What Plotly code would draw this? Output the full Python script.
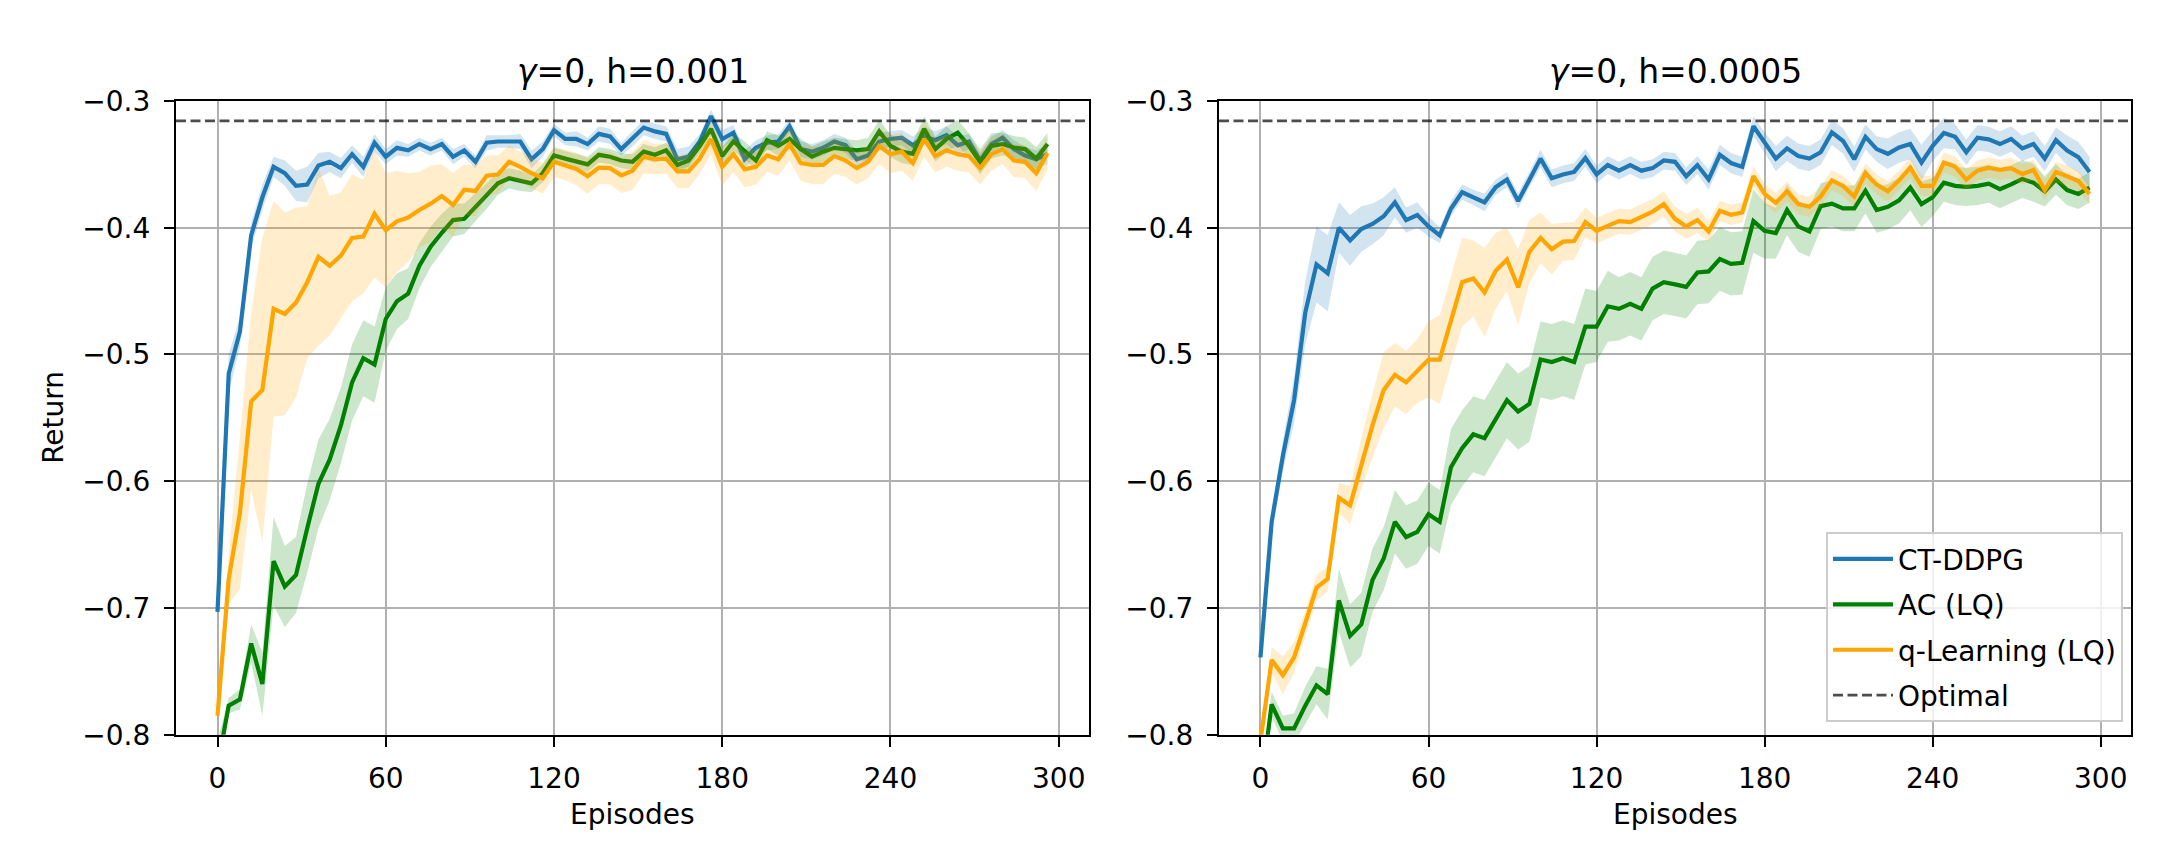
import plotly.graph_objects as go

W, H = 2160, 864

episodes = list(range(0, 300, 4))
optimal = -0.3157

# gamma=0, h=0.001
left_ddpg = [
    -0.703, -0.515, -0.482, -0.406, -0.376, -0.352, -0.357, -0.367, -0.366, -0.351,
    -0.348, -0.353, -0.342, -0.352, -0.333, -0.344, -0.337, -0.339, -0.334, -0.338,
    -0.334, -0.344, -0.339, -0.348, -0.333, -0.332, -0.332, -0.332, -0.346, -0.338,
    -0.323, -0.330, -0.330, -0.334, -0.326, -0.328, -0.338, -0.330, -0.321, -0.324,
    -0.326, -0.346, -0.344, -0.332, -0.312, -0.330, -0.325, -0.346, -0.337, -0.333,
    -0.332, -0.320, -0.338, -0.340, -0.337, -0.332, -0.335, -0.346, -0.343, -0.332,
    -0.330, -0.329, -0.335, -0.328, -0.331, -0.327, -0.335, -0.332, -0.347, -0.334,
    -0.329, -0.338, -0.343, -0.346, -0.342,
]
left_ddpg_sd = [
    0.006, 0.015, 0.012, 0.010, 0.010, 0.008, 0.010, 0.012, 0.014, 0.010,
    0.008, 0.008, 0.007, 0.008, 0.007, 0.006, 0.006, 0.005, 0.005, 0.005,
    0.005, 0.006, 0.005, 0.005, 0.006, 0.005, 0.005, 0.006, 0.007, 0.006,
    0.005, 0.005, 0.006, 0.005, 0.006, 0.006, 0.005, 0.006, 0.006, 0.006,
    0.006, 0.008, 0.008, 0.006, 0.005, 0.007, 0.006, 0.007, 0.006, 0.006,
    0.006, 0.005, 0.006, 0.006, 0.006, 0.006, 0.006, 0.006, 0.007, 0.007,
    0.006, 0.006, 0.007, 0.007, 0.007, 0.007, 0.007, 0.006, 0.006, 0.006,
    0.006, 0.007, 0.007, 0.007, 0.008,
]
left_ac = [
    -0.825, -0.777, -0.772, -0.728, -0.760, -0.663, -0.683, -0.674, -0.637, -0.602,
    -0.583, -0.556, -0.522, -0.503, -0.508, -0.472, -0.458, -0.452, -0.430, -0.415,
    -0.404, -0.394, -0.393, -0.384, -0.375, -0.365, -0.361, -0.363, -0.365, -0.357,
    -0.343, -0.3455, -0.348, -0.350, -0.3425, -0.344, -0.347, -0.348, -0.340, -0.3425,
    -0.339, -0.3505, -0.347, -0.3355, -0.322, -0.3435, -0.332, -0.339, -0.347, -0.331,
    -0.3355, -0.330, -0.338, -0.344, -0.340, -0.337, -0.338, -0.339, -0.338, -0.324,
    -0.3355, -0.340, -0.3417, -0.322, -0.338, -0.330, -0.325, -0.3355, -0.348, -0.3355,
    -0.334, -0.3367, -0.338, -0.3455, -0.334,
]
left_ac_sd = [
    0.020, 0.006, 0.008, 0.015, 0.025, 0.035, 0.032, 0.030, 0.035, 0.035,
    0.032, 0.030, 0.030, 0.030, 0.030, 0.025, 0.022, 0.020, 0.018, 0.016,
    0.015, 0.013, 0.012, 0.011, 0.010, 0.009, 0.008, 0.008, 0.007, 0.007,
    0.006, 0.006, 0.006, 0.006, 0.006, 0.006, 0.006, 0.006, 0.006, 0.006,
    0.006, 0.006, 0.006, 0.006, 0.006, 0.007, 0.007, 0.007, 0.007, 0.007,
    0.008, 0.008, 0.008, 0.008, 0.008, 0.008, 0.008, 0.008, 0.009, 0.009,
    0.009, 0.009, 0.009, 0.010, 0.010, 0.010, 0.010, 0.010, 0.010, 0.010,
    0.009, 0.009, 0.009, 0.009, 0.009,
]
left_q = [
    -0.785, -0.677, -0.625, -0.537, -0.528, -0.464, -0.468, -0.459, -0.443, -0.423,
    -0.430, -0.422, -0.408, -0.407, -0.389, -0.402, -0.395, -0.392, -0.386, -0.381,
    -0.375, -0.382, -0.370, -0.371, -0.359, -0.358, -0.348, -0.352, -0.357, -0.361,
    -0.348, -0.3505, -0.3536, -0.3594, -0.3526, -0.353, -0.3587, -0.355, -0.344, -0.346,
    -0.3455, -0.3556, -0.3556, -0.3455, -0.330, -0.352, -0.342, -0.354, -0.352, -0.343,
    -0.346, -0.334, -0.349, -0.3505, -0.3505, -0.3435, -0.347, -0.353, -0.348, -0.3355,
    -0.342, -0.340, -0.349, -0.330, -0.3435, -0.339, -0.342, -0.3435, -0.353, -0.342,
    -0.338, -0.347, -0.348, -0.357, -0.341,
]
left_q_sd = [
    0.005, 0.020, 0.060, 0.070, 0.120, 0.085, 0.080, 0.075, 0.060, 0.070,
    0.055, 0.050, 0.050, 0.045, 0.050, 0.045, 0.040, 0.035, 0.030, 0.030,
    0.025, 0.025, 0.020, 0.020, 0.016, 0.015, 0.013, 0.012, 0.012, 0.012,
    0.012, 0.012, 0.013, 0.014, 0.013, 0.013, 0.014, 0.015, 0.013, 0.012,
    0.012, 0.013, 0.013, 0.012, 0.012, 0.015, 0.014, 0.014, 0.014, 0.013,
    0.013, 0.013, 0.014, 0.015, 0.015, 0.014, 0.013, 0.013, 0.013, 0.014,
    0.015, 0.015, 0.014, 0.014, 0.013, 0.013, 0.013, 0.013, 0.013, 0.013,
    0.012, 0.013, 0.013, 0.014, 0.013,
]

# gamma=0, h=0.0005
right_ddpg = [
    -0.739, -0.632, -0.580, -0.536, -0.467, -0.429, -0.436, -0.400, -0.410, -0.401,
    -0.397, -0.391, -0.380, -0.394, -0.390, -0.399, -0.406, -0.385, -0.372, -0.376,
    -0.380, -0.368, -0.362, -0.379, -0.362, -0.3455, -0.361, -0.358, -0.356, -0.345,
    -0.358, -0.3506, -0.355, -0.3506, -0.355, -0.353, -0.347, -0.348, -0.3594, -0.3506,
    -0.362, -0.3425, -0.349, -0.352, -0.320, -0.3329, -0.3455, -0.3374, -0.3435, -0.3455,
    -0.3405, -0.3248, -0.3316, -0.346, -0.3283, -0.338, -0.3417, -0.3367, -0.334, -0.3486,
    -0.3354, -0.3253, -0.3283, -0.3405, -0.329, -0.3303, -0.334, -0.330, -0.3374, -0.334,
    -0.3455, -0.3309, -0.3392, -0.3443, -0.356,
]
right_ddpg_sd = [
    0.005, 0.010, 0.012, 0.018, 0.025, 0.030, 0.030, 0.020, 0.020, 0.018,
    0.016, 0.015, 0.012, 0.010, 0.010, 0.008, 0.006, 0.006, 0.006, 0.006,
    0.007, 0.006, 0.006, 0.006, 0.006, 0.007, 0.007, 0.007, 0.007, 0.007,
    0.007, 0.007, 0.007, 0.007, 0.007, 0.007, 0.007, 0.007, 0.007, 0.007,
    0.008, 0.008, 0.008, 0.008, 0.008, 0.008, 0.010, 0.010, 0.010, 0.010,
    0.010, 0.010, 0.010, 0.010, 0.010, 0.010, 0.012, 0.012, 0.012, 0.014,
    0.012, 0.012, 0.010, 0.010, 0.010, 0.010, 0.010, 0.010, 0.010, 0.010,
    0.010, 0.010, 0.012, 0.012, 0.012,
]
right_ac = [
    -0.845, -0.776, -0.795, -0.795, -0.777, -0.761, -0.768, -0.694, -0.722, -0.713,
    -0.678, -0.661, -0.632, -0.644, -0.640, -0.626, -0.632, -0.589, -0.574, -0.563,
    -0.566, -0.551, -0.536, -0.545, -0.539, -0.504, -0.506, -0.503, -0.506, -0.478,
    -0.478, -0.462, -0.464, -0.460, -0.464, -0.448, -0.443, -0.4447, -0.4467, -0.4353,
    -0.4345, -0.4247, -0.4285, -0.4277, -0.3948, -0.4024, -0.4042, -0.386, -0.399, -0.403,
    -0.383, -0.381, -0.3847, -0.3847, -0.3708, -0.386, -0.3835, -0.3784, -0.3683, -0.3814,
    -0.3759, -0.3645, -0.367, -0.3678, -0.367, -0.3653, -0.3696, -0.3658, -0.3615, -0.3645,
    -0.3713, -0.362, -0.3703, -0.3733, -0.3683,
]
right_ac_sd = [
    0.010, 0.010, 0.010, 0.012, 0.015, 0.015, 0.020, 0.025, 0.025, 0.025,
    0.025, 0.025, 0.025, 0.025, 0.025, 0.025, 0.025, 0.030, 0.030, 0.030,
    0.030, 0.030, 0.030, 0.030, 0.030, 0.030, 0.030, 0.030, 0.030, 0.030,
    0.028, 0.028, 0.025, 0.025, 0.025, 0.025, 0.025, 0.025, 0.025, 0.025,
    0.025, 0.025, 0.025, 0.025, 0.025, 0.022, 0.020, 0.020, 0.020, 0.020,
    0.018, 0.018, 0.018, 0.018, 0.018, 0.018, 0.018, 0.018, 0.018, 0.018,
    0.015, 0.015, 0.015, 0.015, 0.015, 0.015, 0.015, 0.015, 0.015, 0.015,
    0.012, 0.012, 0.012, 0.012, 0.012,
]
right_q = [
    -0.805, -0.741, -0.753, -0.739, -0.712, -0.684, -0.677, -0.613, -0.619, -0.586,
    -0.556, -0.528, -0.516, -0.522, -0.513, -0.504, -0.504, -0.473, -0.443, -0.440,
    -0.451, -0.434, -0.425, -0.447, -0.419, -0.408, -0.417, -0.411, -0.4105, -0.3956,
    -0.4024, -0.3986, -0.3948, -0.3956, -0.3916, -0.3873, -0.3814, -0.393, -0.399, -0.394,
    -0.403, -0.3867, -0.3898, -0.388, -0.3594, -0.3733, -0.3804, -0.3713, -0.3814, -0.3835,
    -0.3754, -0.3627, -0.367, -0.3754, -0.357, -0.366, -0.3713, -0.3627, -0.3526, -0.367,
    -0.367, -0.3486, -0.3518, -0.362, -0.355, -0.3526, -0.3544, -0.3531, -0.3577, -0.3544,
    -0.3703, -0.3561, -0.3594, -0.3632, -0.3733,
]
right_q_sd = [
    0.005, 0.010, 0.015, 0.012, 0.010, 0.010, 0.010, 0.012, 0.015, 0.020,
    0.025, 0.030, 0.025, 0.025, 0.025, 0.030, 0.035, 0.035, 0.035, 0.030,
    0.035, 0.030, 0.025, 0.030, 0.025, 0.020, 0.020, 0.015, 0.015, 0.012,
    0.010, 0.010, 0.010, 0.010, 0.010, 0.010, 0.010, 0.010, 0.010, 0.010,
    0.008, 0.008, 0.008, 0.008, 0.008, 0.008, 0.008, 0.008, 0.008, 0.008,
    0.008, 0.008, 0.008, 0.008, 0.008, 0.008, 0.008, 0.008, 0.008, 0.008,
    0.008, 0.008, 0.008, 0.008, 0.008, 0.008, 0.008, 0.008, 0.008, 0.008,
    0.008, 0.008, 0.008, 0.008, 0.008,
]

names = ["CT-DDPG", "AC (LQ)", "q-Learning (LQ)"]
colors = ["#1f77b4", "#008000", "#ffa500"]
bands = ["rgba(31,119,180,0.2)", "rgba(0,128,0,0.2)", "rgba(255,165,0,0.2)"]
titles = ["<i>γ</i>=0, h=0.001", "<i>γ</i>=0, h=0.0005"]
x_ticks = [0, 60, 120, 180, 240, 300]
y_ticks = [-0.8, -0.7, -0.6, -0.5, -0.4, -0.3]
y_ticklabels = ["\u22120.8", "\u22120.7", "\u22120.6", "\u22120.5", "\u22120.4", "\u22120.3"]

panels = [
    [(left_ddpg, left_ddpg_sd), (left_ac, left_ac_sd), (left_q, left_q_sd)],
    [(right_ddpg, right_ddpg_sd), (right_ac, right_ac_sd), (right_q, right_q_sd)],
]

x_range = [-14.8, 310.8]
y_range = [-0.8, -0.3]

# axes boxes in pixels (left, right, top, bottom)
boxes = [(168, 1081, 80, 739), (1211, 2123, 80, 739)]
FONT = "DejaVu Sans"

fig = go.Figure()

for p, series in enumerate(panels):
    xa = "x" if p == 0 else "x2"
    ya = "y" if p == 0 else "y2"
    for i, (mean, sd) in enumerate(series):
        upper = [m + s for m, s in zip(mean, sd)]
        lower = [m - s for m, s in zip(mean, sd)]
        fig.add_trace(go.Scatter(
            x=episodes + episodes[::-1],
            y=upper + lower[::-1],
            fill="toself",
            fillcolor=bands[i],
            line=dict(width=0),
            hoverinfo="skip",
            showlegend=False,
            xaxis=xa, yaxis=ya,
        ))
        fig.add_trace(go.Scatter(
            x=episodes, y=mean,
            mode="lines",
            name=names[i],
            legendgroup=names[i],
            line=dict(color=colors[i], width=4.2),
            showlegend=(p == 1),
            xaxis=xa, yaxis=ya,
        ))
    fig.add_trace(go.Scatter(
        x=x_range, y=[optimal, optimal],
        mode="lines",
        name="Optimal",
        legendgroup="Optimal",
        line=dict(color="rgba(0,0,0,0.7)", width=2.8, dash="10px,4.5px"),
        showlegend=(p == 1),
        xaxis=xa, yaxis=ya,
    ))

axis_style = dict(
    showgrid=True, gridcolor="#b0b0b0", gridwidth=2.2,
    showline=True, mirror=True, linecolor="black", linewidth=2.2,
    ticks="outside", ticklen=10, tickwidth=2.2, tickcolor="black",
    tickfont=dict(family=FONT, size=28, color="black"),
    zeroline=False, ticklabelstandoff=8,
)

layout = dict(
    width=W, height=H,
    margin=dict(l=0, r=0, t=0, b=0),
    paper_bgcolor="white", plot_bgcolor="white",
    font=dict(family=FONT, size=28, color="black"),
    legend=dict(
        x=2115 / W, y=1 - 726 / H, xanchor="right", yanchor="bottom",
        bgcolor="rgba(255,255,255,0.8)", bordercolor="#cccccc", borderwidth=2,
        font=dict(family=FONT, size=28, color="black"),
        traceorder="grouped", tracegroupgap=6, itemwidth=60,
    ),
    annotations=[],
)

for p, (l, r, t, b) in enumerate(boxes):
    sx = "" if p == 0 else "2"
    layout["xaxis" + sx] = dict(
        axis_style, domain=[l / W, r / W], range=x_range,
        tickvals=x_ticks, anchor="y" + sx,
    )
    layout["yaxis" + sx] = dict(
        axis_style, domain=[1 - b / H, 1 - t / H], range=y_range,
        tickvals=y_ticks, ticktext=y_ticklabels, anchor="x" + sx,
    )
    cx = (l + r) / 2 / W
    layout["annotations"].append(dict(
        text=titles[p], x=cx, y=1 - 49 / H, xref="paper", yref="paper",
        showarrow=False, xanchor="center", yanchor="middle",
        font=dict(family=FONT, size=33, color="black"),
    ))
    layout["annotations"].append(dict(
        text="Episodes", x=cx, y=1 - 822 / H, xref="paper", yref="paper",
        showarrow=False, xanchor="center", yanchor="middle",
        font=dict(family=FONT, size=28, color="black"),
    ))

layout["annotations"].append(dict(
    text="Return", x=46 / W, y=1 - 409.5 / H, xref="paper", yref="paper",
    showarrow=False, xanchor="center", yanchor="middle", textangle=-90,
    font=dict(family=FONT, size=28, color="black"),
))

fig.update_layout(layout)
fig.write_html("out.html")
